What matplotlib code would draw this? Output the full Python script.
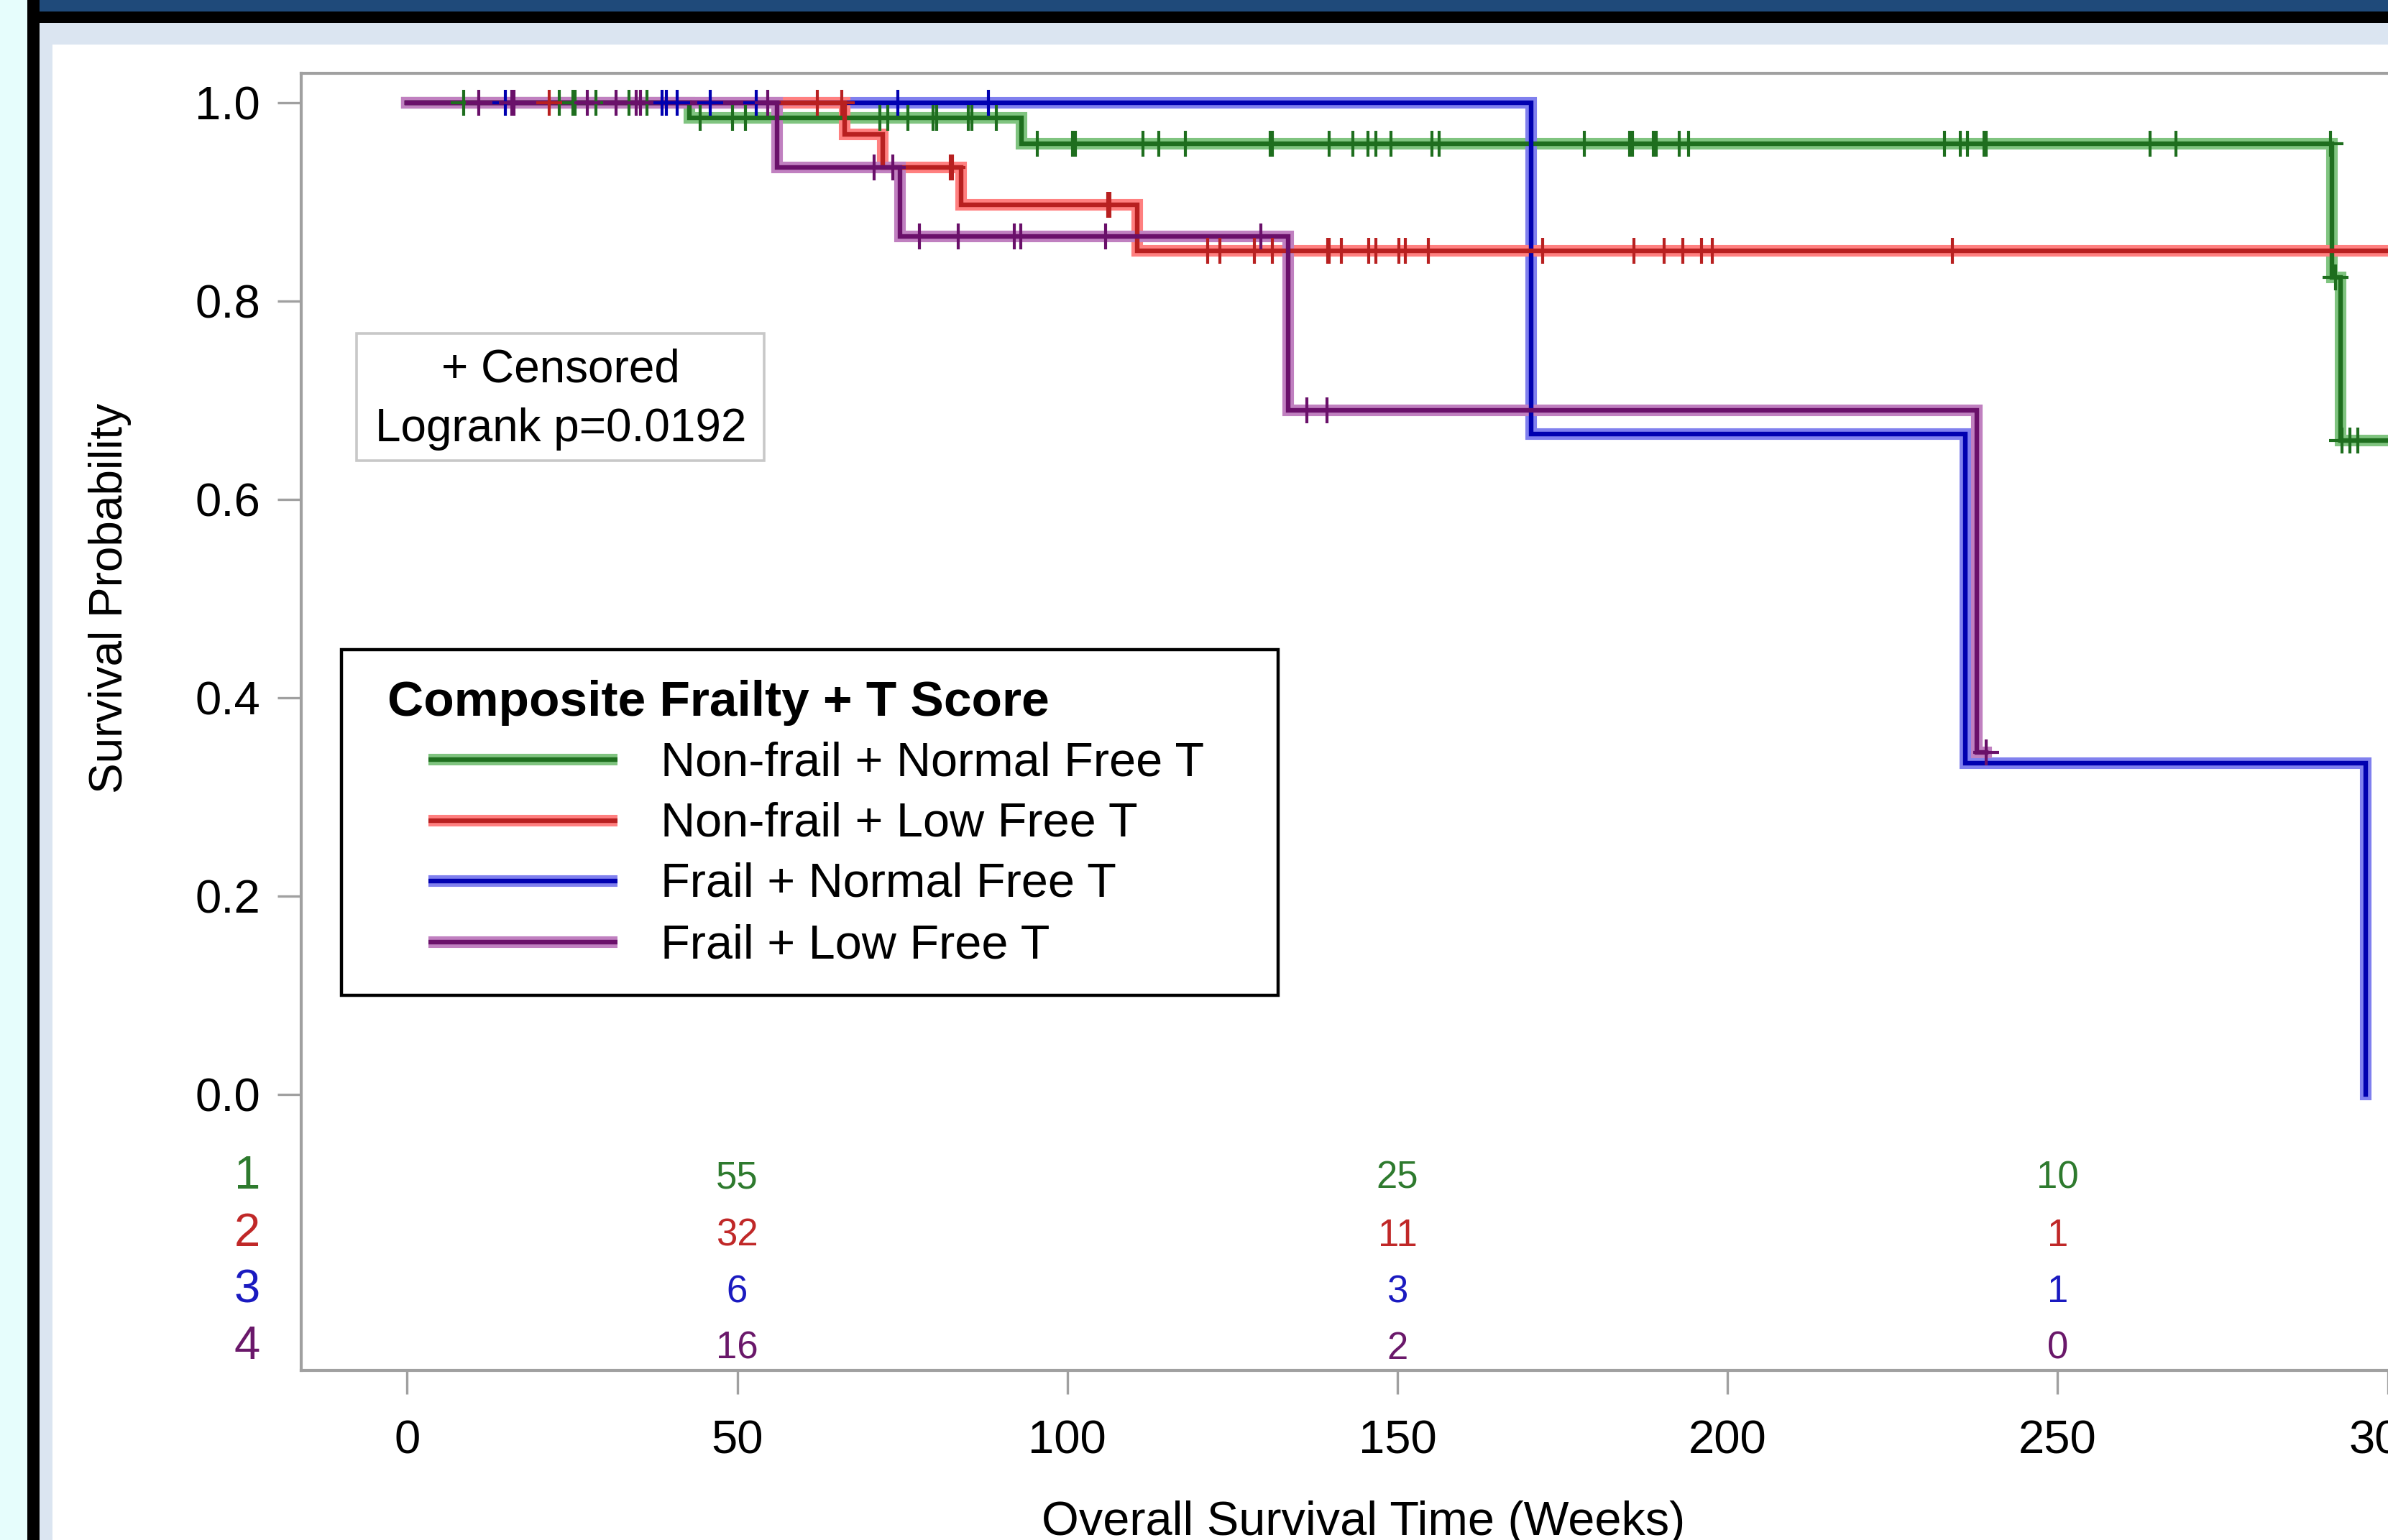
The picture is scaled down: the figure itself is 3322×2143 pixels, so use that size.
import matplotlib
matplotlib.use('Agg')
import matplotlib.pyplot as plt
import numpy as np
from matplotlib.patches import Rectangle

plt.rcParams['font.family'] = ['Liberation Sans', 'DejaVu Sans']

W, H = 3322, 2143
DPI = 200

# groups
labels = ['Non-frail + Normal Free T', 'Non-frail + Low Free T',
          'Frail + Normal Free T', 'Frail + Low Free T']
legend_title = 'Composite Frailty + T Score'

# KM steps (weeks, survival)
green_t = [0, 42.8, 93.1, 291.5, 292.8, 305]
green_s = [1.0, 0.985, 0.959, 0.824, 0.659, 0.659]
red_t = [0, 66.3, 72.0, 83.9, 110.6, 305]
red_s = [1.0, 0.968, 0.935, 0.897, 0.851, 0.851]
blue_t = [0, 170.3, 236.0, 296.7]
blue_s = [1.0, 0.666, 0.334, 0.0]
purple_t = [0, 56.0, 74.7, 133.5, 237.7, 239.2]
purple_s = [1.0, 0.935, 0.865, 0.69, 0.345, 0.345]

# censored times
green_c = [8.6, 23.1, 25.1, 25.4, 28.6, 33.6, 36.3, 44.4, 49.3, 51.2, 71.6, 72.8,
           75.8, 79.7, 80.2, 85.0, 85.5, 89.2, 95.5, 100.8, 101.2, 111.5, 113.8,
           117.9, 130.7, 131.0, 139.7, 143.2, 145.5, 146.7, 149.0, 155.2, 156.3,
           178.3, 185.2, 185.6, 188.8, 189.2, 192.7, 194.1, 232.9, 235.3, 236.3,
           238.8, 239.2, 264.0, 267.9, 291.3, 292.1, 293.1, 294.3, 295.5]
red_c = [21.5, 62.1, 65.8, 82.3, 82.6, 106.1, 106.4, 121.3, 123.1, 128.3, 131.1,
         139.4, 139.7, 141.5, 145.6, 146.7, 150.2, 151.2, 154.7, 172.0, 185.8,
         190.4, 193.2, 196.1, 197.7, 234.1]
blue_c = [14.9, 38.6, 39.3, 40.9, 45.9, 52.9, 74.3, 88.1]
purple_c = [10.9, 15.9, 16.2, 27.3, 31.7, 34.7, 35.4, 54.6, 70.7, 73.6, 77.6,
            83.5, 92.0, 93.0, 105.8, 129.3, 136.3, 139.3, 239.2]

# number at risk
risk_times = [50, 150, 250]
risk_green = [55, 25, 10]
risk_red = [32, 11, 1]
risk_blue = [6, 3, 1]
risk_purple = [16, 2, 0]

x_ticks = [0, 50, 100, 150, 200, 250, 300]
y_ticks = [0.0, 0.2, 0.4, 0.6, 0.8, 1.0]

# (core, halo, text) colours
cols = {
    'green': ('#1e6e1e', '#80c480', '#2e7a2e'),
    'red': ('#b82020', '#ff8080', '#c02828'),
    'blue': ('#0000b0', '#8080ee', '#1a1ac0'),
    'purple': ('#6a106a', '#c080c0', '#6a186a'),
}

fig = plt.figure(figsize=(W / DPI, H / DPI), dpi=DPI)

# background frame (screenshot borders)
bg = fig.add_axes([0, 0, 1, 1], zorder=0)
bg.set_xlim(0, W)
bg.set_ylim(H, 0)
bg.axis('off')
bg.add_patch(Rectangle((0, 0), 38, H, color='#e6fdfc', lw=0))
bg.add_patch(Rectangle((38, 0), 17, H, color='black', lw=0))
bg.add_patch(Rectangle((55, 0), W, 16, color='#1f4a7a', lw=0))
bg.add_patch(Rectangle((55, 16), W, 16, color='black', lw=0))
bg.add_patch(Rectangle((55, 32), W, H, color='#dbe5f1', lw=0))
bg.add_patch(Rectangle((73, 62), W, H, color='white', lw=0))

# main axes, extends past the right edge like the cropped screenshot
ax = fig.add_axes([419 / W, 1 - 1907 / H, (3375 - 419) / W, (1907 - 102) / H], zorder=1)
ax.set_facecolor('white')
ax.set_xlim(-16.04, 305.8)
ax.set_ylim(-0.2787, 1.0297)

for sp in ['left', 'top', 'bottom', 'right']:
    ax.spines[sp].set_color('#a0a0a0')
    ax.spines[sp].set_linewidth(1.5)

ax.set_xticks(x_ticks)
ax.set_yticks(y_ticks)
ax.set_yticklabels(['%.1f' % v for v in y_ticks])
ax.tick_params(axis='both', direction='out', length=12, width=1.2, color='#a0a0a0',
               labelsize=23.5, labelcolor='black')
ax.tick_params(axis='x', pad=12.5)
ax.tick_params(axis='y', pad=8.5)

series = [
    ('green', green_t, green_s, green_c),
    ('blue', blue_t, blue_s, blue_c),
    ('red', red_t, red_s, red_c),
    ('purple', purple_t, purple_s, purple_c),
]

for name, t, s, c in series:
    core, halo, _ = cols[name]
    ax.step(t, s, where='post', color=halo, lw=5.8, solid_joinstyle='miter', zorder=2)
    ax.step(t, s, where='post', color=core, lw=2.3, solid_joinstyle='miter', zorder=3)

for name, t, s, c in series:
    core = cols[name][0]
    idx = np.searchsorted(np.array(t), np.array(c), side='right') - 1
    ax.plot(c, np.array(s)[idx], ls='none', marker='+', ms=13, mew=1.5,
            color=core, zorder=4)

# number-at-risk rows
risk_rows = [('green', risk_green), ('red', risk_red), ('blue', risk_blue), ('purple', risk_purple)]
row_base = [-0.095, -0.153, -0.210, -0.267]
for i, (name, vals) in enumerate(risk_rows):
    tc = cols[name][2]
    ax.text(-24.2, row_base[i], str(i + 1), color=tc, fontsize=23.5,
            ha='center', va='baseline', clip_on=False)
    for x, v in zip(risk_times, vals):
        ax.text(x, row_base[i], str(v), color=tc, fontsize=19, ha='center', va='baseline')

# axis titles
fig.text(1897 / W, 1 - 2136 / H, 'Overall Survival Time (Weeks)', fontsize=24,
         ha='center', va='baseline')
fig.text(153 / W, 1 - 832 / H, 'Survival Probability', fontsize=23, rotation=90,
         ha='center', va='center')

# overlay for inset boxes (pixel coords)
ov = fig.add_axes([0, 0, 1, 1], zorder=5)
ov.set_xlim(0, W)
ov.set_ylim(H, 0)
ov.axis('off')

ov.add_patch(Rectangle((496, 464), 567, 177, fill=False, edgecolor='#c8c8c8', lw=1.3))
ov.text(780, 531, '+ Censored', fontsize=23, ha='center', va='baseline')
ov.text(780, 614, 'Logrank p=0.0192', fontsize=23, ha='center', va='baseline')

ov.add_patch(Rectangle((475, 904), 1303, 481, facecolor='white', edgecolor='black', lw=1.6))
ov.text(539, 996, legend_title, fontsize=25, fontweight='bold', ha='left', va='baseline')
leg_names = ['green', 'red', 'blue', 'purple']
leg_base = [1079, 1164, 1248, 1333]
for i, name in enumerate(leg_names):
    core, halo, _ = cols[name]
    ly = leg_base[i] - 22
    ov.plot([596, 859], [ly, ly], color=halo, lw=5.8, solid_capstyle='butt')
    ov.plot([596, 859], [ly, ly], color=core, lw=2.3, solid_capstyle='butt')
    ov.text(919, leg_base[i], labels[i], fontsize=24, ha='left', va='baseline')

fig.savefig('out.png', dpi=DPI)
